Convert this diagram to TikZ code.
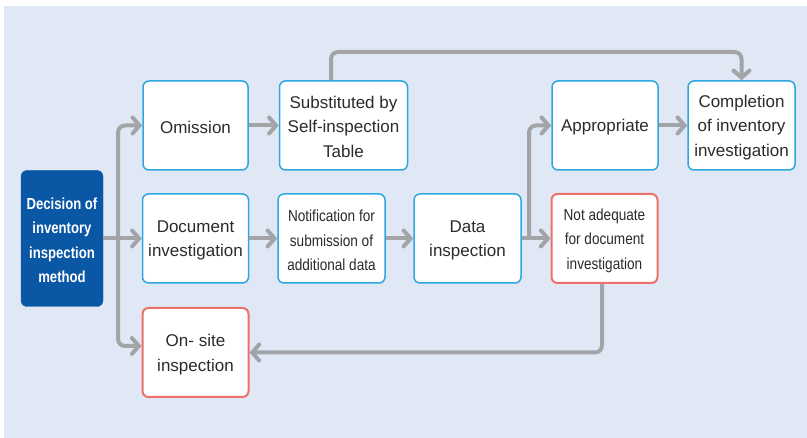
\documentclass[tikz,border=0pt]{standalone}
\usepackage{fontspec}
\setmainfont{Liberation Sans}
\newfontfamily\condfont[FakeStretch=0.85]{Liberation Sans}
\newfontfamily\condbold[FakeStretch=0.82]{Liberation Sans Bold}
\usetikzlibrary{arrows.meta}
\definecolor{bgc}{HTML}{E1E8F5}
\definecolor{bluebd}{HTML}{2EA6E0}
\definecolor{redbd}{HTML}{EE706B}
\definecolor{darkbl}{HTML}{0A57A6}
\definecolor{txt}{HTML}{2B2B2B}
\definecolor{arr}{HTML}{A2A4A7}
\tikzset{
  box/.style={draw=bluebd, line width=1.5pt, fill=white, rounded corners=6pt,
    inner sep=0pt, minimum height=89pt},
  redbox/.style={box, draw=redbd, line width=2pt},
  lbl/.style={text=txt, align=center, inner sep=0pt, yshift=-2pt,
    font=\fontsize{17}{24.5}\selectfont},
  clbl/.style={lbl, font=\condfont\fontsize{16}{24.5}\selectfont},
  declbl/.style={lbl, text=white, font=\condbold\fontsize{16}{24.5}\selectfont},
  decbox/.style={fill=darkbl, draw=darkbl, rounded corners=6pt, inner sep=0pt},
  conn/.style={draw=arr, line width=4pt, rounded corners=7pt,
    -{Straight Barb[length=7pt,width=16pt,line cap=round]}},
  line/.style={draw=arr, line width=4pt, rounded corners=7pt}
}
\begin{document}
\begin{tikzpicture}[x=1pt,y=-1pt]
\useasboundingbox (0,0) rectangle (807,438);
\fill[bgc] (4,6) rectangle (807,438);
% nodes
\node[decbox, minimum width=82pt, minimum height=136pt,
  label={[declbl]center:Decision of\\inventory\\inspection\\method}] (dec) at (62,238.5) {};
\node[box, minimum width=105pt, label={[lbl]center:Omission}] (om) at (195.5,125.5) {};
\node[box, minimum width=128pt,
  label={[lbl,yshift=1pt]center:Substituted by\\Self-inspection\\Table}] (sub) at (343.5,125.5) {};
\node[box, minimum width=106pt, label={[lbl]center:Appropriate}] (app) at (605,125.5) {};
\node[box, minimum width=107pt,
  label={[lbl]center:Completion\\of inventory\\investigation}] (comp) at (741.5,125.5) {};
\node[box, minimum width=106pt,
  label={[lbl]center:Document\\investigation}] (doc) at (195.5,238.5) {};
\node[box, minimum width=107pt,
  label={[clbl]center:Notification for\\submission of\\additional data}] (not) at (331.5,238.5) {};
\node[box, minimum width=107pt,
  label={[lbl]center:Data\\inspection}] (data) at (467.5,238.5) {};
\node[redbox, minimum width=106pt,
  label={[clbl]center:Not adequate\\for document\\investigation}] (nad) at (604.5,238.5) {};
\node[redbox, minimum width=106pt,
  label={[lbl]center:On- site\\inspection}] (ons) at (195.5,352.5) {};
% connectors
\coordinate (trunk) at (118,238.5);
\draw[line] (dec.east) -- (trunk);
\draw[conn] (trunk) -- (118,125.5) -- (om.west);
\draw[conn] (trunk) -- (doc.west);
\draw[conn] (trunk) -- (118,346) -- (ons.west |- 0,346);
\draw[conn] (om.east) -- (sub.west);
\draw[conn] (sub.north -| 331,0) -- (331,52) -- (741.5,52) -- (comp.north);
\draw[conn] (app.east) -- (comp.west);
\draw[conn] (doc.east) -- (not.west);
\draw[conn] (not.east) -- (data.west);
\draw[conn] (data.east) -- (nad.west);
\draw[conn] (529,238.5) -- (529,125.5) -- (app.west);
\draw[conn] (nad.south -| 602,0) -- (602,352.5) -- (ons.east);
\end{tikzpicture}
\end{document}
